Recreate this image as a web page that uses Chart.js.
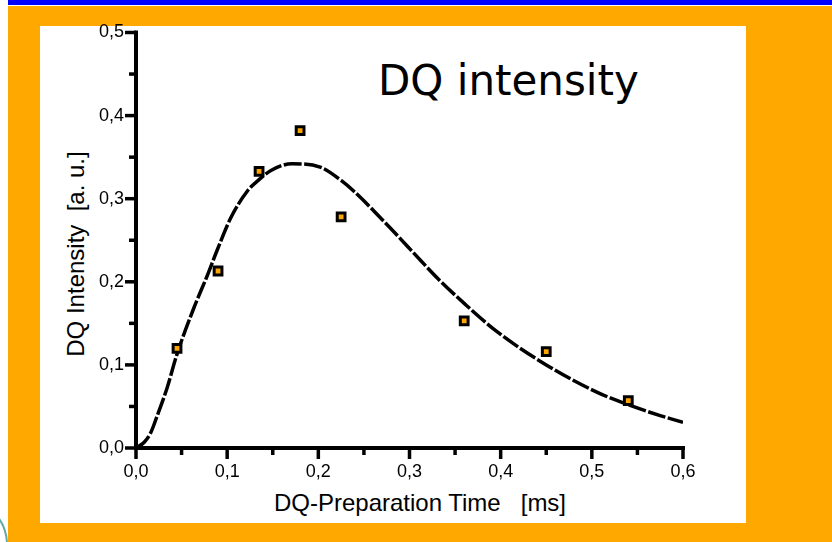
<!DOCTYPE html>
<html>
<head>
<meta charset="utf-8">
<script src="https://cdn.jsdelivr.net/npm/chart.js@4.4.1/dist/chart.umd.min.js"></script>
<style>
  html, body { margin: 0; padding: 0; background: #fff; }
  body { width: 832px; height: 542px; position: relative; overflow: hidden; font-family: "Liberation Sans", Arial, sans-serif; }
  .ring { position: absolute; left: -88px; top: 497px; width: 96px; height: 96px; box-sizing: border-box; border: 2px solid #5fa8aa; border-radius: 50%; }
  .bar { position: absolute; left: 8px; top: 0; right: 0; height: 5px; background: #0000ff; }
  .frame { position: absolute; left: 8px; top: 6px; right: 0; bottom: 0; background: #ffa800; }
  .panel { position: absolute; left: 40px; top: 26px; width: 706px; height: 497px; background: #fff; }
  .caption { position: absolute; left: 378px; top: 60px; font: 42px/42px "DejaVu Sans", Verdana, sans-serif; color: #000; white-space: nowrap; }
  .xtitle { position: absolute; left: 420px; top: 491px; transform: translateX(-50%); font-size: 24px; line-height: 24px; white-space: pre; color: #000; }
  .ytitle { position: absolute; left: 76px; top: 254px; transform: translate(-50%, -50%) rotate(-90deg); font-size: 24px; line-height: 24px; white-space: pre; color: #000; }
  #dq { position: absolute; left: 0; top: 0; }
</style>
</head>
<body>
<div class="ring"></div>
<div class="bar"></div>
<div class="frame"></div>
<div class="panel"></div>
<div class="caption">DQ intensity</div>
<div class="xtitle">DQ-Preparation Time   [ms]</div>
<div class="ytitle">DQ Intensity  [a. u.]</div>
<canvas id="dq" width="832" height="542"></canvas>
<script>
// measured DQ build-up points
const prepTime = [0.045, 0.09, 0.135, 0.18, 0.225, 0.36, 0.45, 0.54];
const dqSignal = [0.120, 0.213, 0.333, 0.382, 0.278, 0.153, 0.116, 0.057];

// fitted build-up curve
const fitTime = [0, 0.009, 0.016, 0.023, 0.034, 0.045, 0.064, 0.078, 0.089, 0.104, 0.122, 0.135, 0.148, 0.171,
                 0.202, 0.225, 0.239, 0.276, 0.312, 0.331, 0.36, 0.396, 0.45, 0.506, 0.54, 0.575, 0.6];
const fitSignal = [0, 0.007, 0.018, 0.038, 0.072, 0.113, 0.170, 0.207, 0.238, 0.277, 0.309, 0.323, 0.334, 0.342,
                   0.338, 0.322, 0.309, 0.268, 0.226, 0.204, 0.174, 0.140, 0.100, 0.067, 0.052, 0.039, 0.031];

// axis ticks
const xMajor = [0, 0.1, 0.2, 0.3, 0.4, 0.5, 0.6];
const xMinor = [0.05, 0.15, 0.25, 0.35, 0.45, 0.55];
const yMajor = [0, 0.1, 0.2, 0.3, 0.4, 0.5];
const yMinor = [0.05, 0.15, 0.25, 0.35, 0.45];

const comma = v => Number(v).toFixed(1).replace('.', ',');

// heavy axis lines plus outward ticks, long on the tenths and short in between
const axisFrame = {
    id: 'axisFrame',
    beforeDatasetsDraw(chart) {
        const ctx = chart.ctx;
        const xs = chart.scales.x, ys = chart.scales.y;
        const a = chart.chartArea;
        const top = ys.getPixelForValue(0.5);
        const right = xs.getPixelForValue(0.6);
        ctx.save();
        ctx.strokeStyle = '#000';
        ctx.lineCap = 'butt';
        ctx.lineWidth = 4;
        ctx.beginPath();
        ctx.moveTo(a.left, top - 2);
        ctx.lineTo(a.left, a.bottom);
        ctx.lineTo(right + 2, a.bottom);
        ctx.stroke();

        ctx.lineWidth = 3.5;
        const down = (v, len) => {
            const px = xs.getPixelForValue(v);
            ctx.beginPath();
            ctx.moveTo(px, a.bottom);
            ctx.lineTo(px, a.bottom + 2 + len);
            ctx.stroke();
        };
        const left = (v, len) => {
            const py = ys.getPixelForValue(v);
            ctx.beginPath();
            ctx.moveTo(a.left, py);
            ctx.lineTo(a.left - 2 - len, py);
            ctx.stroke();
        };
        xMajor.forEach(v => down(v, 9));
        xMinor.forEach(v => down(v, 5));
        yMajor.forEach(v => left(v, 9));
        yMinor.forEach(v => left(v, 5));
        ctx.restore();
    }
};

new Chart(document.getElementById('dq'), {
    type: 'scatter',
    data: {
        datasets: [
            {
                label: 'DQ intensity',
                data: prepTime.map((t, i) => ({ x: t, y: dqSignal[i] })),
                pointStyle: 'rect',
                pointRadius: 5.5,
                pointBorderWidth: 3,
                pointBackgroundColor: '#ffa500',
                pointBorderColor: '#000'
            },
            {
                label: 'fit',
                data: fitTime.map((t, i) => ({ x: t, y: fitSignal[i] })),
                showLine: true,
                borderColor: '#000',
                borderWidth: 3.5,
                borderDash: [18, 2.5],
                cubicInterpolationMode: 'monotone',
                pointRadius: 0
            }
        ]
    },
    options: {
        responsive: false,
        animation: false,
        layout: { padding: { left: 0, top: 32.5, right: 149, bottom: 0 } },
        plugins: { legend: { display: false }, tooltip: { enabled: false } },
        scales: {
            x: {
                type: 'linear',
                min: 0,
                max: 0.6,
                afterFit: s => { s.height = 94; },
                border: { display: false },
                grid: { display: false, drawTicks: false },
                ticks: {
                    stepSize: 0.1,
                    padding: 13,
                    color: '#000',
                    font: { family: 'Liberation Sans', size: 18 },
                    callback: comma
                }
            },
            y: {
                type: 'linear',
                min: 0,
                max: 0.5,
                afterFit: s => { s.width = 136; },
                border: { display: false },
                grid: { display: false, drawTicks: false },
                ticks: {
                    stepSize: 0.1,
                    padding: 12,
                    color: '#000',
                    font: { family: 'Liberation Sans', size: 18 },
                    callback: comma
                }
            }
        }
    },
    plugins: [axisFrame]
});
</script>
</body>
</html>
